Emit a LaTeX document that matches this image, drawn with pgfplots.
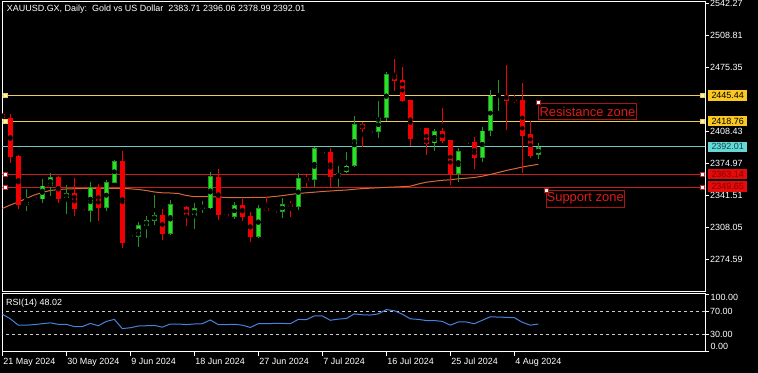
\documentclass[border=0pt]{standalone}
\usepackage{pgfplots}
\pgfplotsset{compat=1.18}
\usepackage{pgfplotstable}
\usepackage{fontspec}
\setmainfont{Liberation Sans}

\definecolor{bullbody}{RGB}{40,225,40}
\definecolor{bullline}{RGB}{30,150,30}
\definecolor{bearc}{RGB}{240,0,0}
\definecolor{yline}{RGB}{235,205,90}
\definecolor{ybox}{RGB}{250,200,30}
\definecolor{ymark}{RGB}{255,240,170}
\definecolor{tline}{RGB}{110,200,200}
\definecolor{tbox}{RGB}{100,215,215}
\definecolor{ttext}{RGB}{20,70,70}
\definecolor{rline}{RGB}{200,30,30}
\definecolor{rbox}{RGB}{230,10,10}
\definecolor{rtext}{RGB}{130,0,0}
\definecolor{zonebox}{RGB}{170,20,20}
\definecolor{zonetext}{RGB}{225,25,25}
\definecolor{maline}{RGB}{215,105,55}
\definecolor{rsiline}{RGB}{70,130,220}

\pgfplotstableread{
k o h l c
3 2331.61 2348.01 2325.34 2334.12
5 2337.25 2358.45 2333.70 2351.45
6 2351.45 2364.40 2340.70 2360.23
8 2338.30 2352.19 2321.90 2343.52
11 2325.34 2355.00 2313.86 2349.78
13 2328.48 2357.41 2325.03 2355.00
14 2354.59 2378.30 2353.96 2377.25
17 2298.19 2313.86 2287.74 2310.41
18 2309.68 2319.81 2296.52 2315.63
19 2314.91 2341.74 2310.41 2320.85
21 2301.01 2336.52 2300.49 2332.02
24 2320.13 2333.07 2306.23 2327.85
26 2327.85 2365.45 2327.12 2361.59
29 2319.08 2334.12 2316.68 2331.30
32 2298.19 2331.30 2296.52 2327.85
35 2324.30 2338.30 2318.03 2332.02
37 2329.73 2364.40 2326.08 2359.18
39 2357.41 2392.19 2350.41 2390.52
42 2360.86 2372.03 2350.41 2364.40
43 2365.45 2386.97 2364.40 2372.34
44 2372.03 2424.25 2371.30 2415.89
47 2407.85 2439.92 2400.96 2422.47
48 2422.47 2469.89 2419.03 2468.11
54 2395.74 2410.67 2388.01 2408.58
57 2363.67 2390.52 2355.63 2387.70
60 2380.70 2412.45 2375.89 2408.90
61 2408.90 2451.40 2403.68 2445.45
67 2383.71 2396.06 2378.99 2392.01
}\bull

\pgfplotstableread{
k o h l c
16 2297.88 2301.01 2296.52 2299.65
25 2327.85 2335.47 2323.26 2329.21
34 2323.26 2326.81 2321.90 2325.03
40 2384.56 2386.60 2383.52 2386.34
46 2406.81 2408.90 2405.14 2408.58
52 2410.36 2412.45 2408.58 2411.40
58 2395.32 2399.18 2393.96 2397.10
62 2445.14 2461.85 2429.78 2446.18
}\doji

\pgfplotstableread{
k o h l c
0 2426.34 2426.90 2421.60 2421.85
1 2422.16 2426.34 2374.85 2381.74
2 2382.79 2383.52 2326.81 2331.30
4 2339.97 2340.70 2335.79 2337.25
7 2360.23 2361.59 2333.70 2337.57
9 2343.52 2359.18 2320.13 2327.12
10 2327.12 2327.40 2322.63 2325.03
12 2349.78 2353.23 2314.91 2328.48
15 2377.25 2387.70 2286.70 2291.92
20 2320.85 2327.12 2294.74 2301.01
22 2329.53 2330.57 2327.12 2328.16
23 2329.53 2330.26 2309.37 2319.81
27 2360.86 2368.90 2315.63 2320.85
28 2321.90 2322.20 2316.37 2318.45
30 2331.30 2337.56 2314.59 2318.45
31 2320.13 2323.67 2292.34 2297.56
33 2328.48 2339.34 2323.67 2325.03
36 2332.34 2335.79 2319.08 2329.53
38 2359.50 2362.63 2350.41 2356.36
41 2386.34 2390.52 2350.41 2360.86
45 2415.89 2418.29 2391.56 2410.67
49 2468.11 2483.78 2450.67 2460.80
50 2461.85 2475.74 2439.19 2440.23
51 2440.96 2441.20 2393.23 2399.92
53 2411.40 2412.03 2383.52 2395.01
55 2408.58 2432.29 2395.74 2398.45
56 2399.18 2399.40 2352.19 2363.67
59 2396.78 2402.00 2368.90 2380.70
63 2446.18 2477.51 2409.63 2440.23
64 2442.00 2446.18 2438.14 2439.91
65 2440.96 2458.40 2364.41 2403.68
66 2405.45 2419.03 2380.70 2382.47
}\bear

\pgfplotstableread{
k m
0 2327.64
1 2331.30
2 2334.43
3 2338.09
4 2341.74
5 2344.35
6 2346.44
7 2347.48
8 2348.01
9 2348.32
10 2348.53
11 2348.74
12 2348.74
13 2348.74
14 2348.74
15 2348.74
16 2348.22
17 2347.48
18 2346.44
19 2344.88
20 2344.04
21 2343.83
22 2343.31
23 2341.22
24 2339.97
25 2339.97
26 2339.97
27 2339.65
28 2339.13
29 2338.92
30 2338.92
31 2339.13
32 2339.34
33 2339.34
34 2340.18
35 2341.01
36 2342.27
37 2343.31
38 2344.04
39 2344.67
40 2345.40
41 2345.92
42 2346.44
43 2346.96
44 2347.69
45 2348.43
46 2348.85
47 2349.26
48 2349.78
49 2350.10
50 2350.41
51 2350.93
52 2353.23
53 2355.11
54 2356.15
55 2357.09
56 2357.61
57 2358.66
58 2359.28
59 2360.01
60 2361.37
61 2363.15
62 2365.24
63 2367.33
64 2369.10
65 2370.98
66 2372.44
67 2373.80
}\ma

\pgfplotstableread{
k r
0 65
1 57
2 46
3 46
4 47
5 48.5
6 50
7 47.5
8 47.5
9 43.5
10 43.5
11 49
12 45
13 52.5
14 56
15 40
16 41.5
17 44.5
18 45
19 45.5
20 42.5
21 48
22 48
23 47
24 48
25 48.5
26 55
27 47
28 47
29 47.5
30 46
31 42
32 48.5
33 48.5
34 49
35 49
36 48.5
37 56
38 55.5
39 62
40 62
41 54.5
42 56.5
43 57.5
44 65.5
45 64
46 63.5
47 65.5
48 73
49 71
50 65
51 57
52 56
53 54
54 54
55 52.5
56 46
57 51.5
58 51.5
59 48.5
60 54.5
61 60.5
62 60
63 59.5
64 59
65 51
66 46
67 48.02
}\rsi

\newcommand{\tf}{\fontsize{9}{10}\selectfont}

\begin{document}
\begin{tikzpicture}
\fill[black] (0,0) rectangle (758bp,373bp);

\begin{axis}[
  at={(2.3bp,81.3bp)}, anchor=south west,
  width=702.7bp, height=289.7bp, scale only axis,
  xmin=0, xmax=87.84,
  ymin=2240.75, ymax=2543.3,
  axis line style={white, line width=1bp},
  xtick=\empty,
  ytick={2274.59,2308.05,2341.51,2374.97,2408.43,2475.35,2508.81,2542.27},
  ytick pos=right, yticklabel pos=right,
  tick align=outside, major tick length=4bp,
  tick style={white, line width=0.8bp},
  y tick label style={/pgf/number format/.cd, fixed, fixed zerofill, precision=2, 1000 sep={}, assume math mode=true, /tikz/.cd, text=white, font=\tf, inner sep=1bp},
]
% horizontal levels
\addplot[yline, line width=1bp, forget plot] coordinates {(-1,2445.44) (90,2445.44)};
\addplot[yline, line width=1bp, forget plot] coordinates {(-1,2418.76) (90,2418.76)};
\addplot[tline, line width=1bp, forget plot] coordinates {(-1,2392.01) (90,2392.01)};
\addplot[rline, line width=1bp, forget plot] coordinates {(-1,2363.14) (90,2363.14)};
\addplot[rline, line width=1bp, forget plot] coordinates {(-1,2349.65) (90,2349.65)};
% moving average
\addplot[maline, line width=1bp, forget plot] table[x=k, y=m] {\ma};
% wicks
\addplot[only marks, mark=none, forget plot, error bars/.cd, y dir=both, y explicit, error mark=none,
  error bar style={line width=1bp, draw=bullline}]
  table[x=k, y expr={(\thisrow{h}+\thisrow{l})/2}, y error expr={(\thisrow{h}-\thisrow{l})/2}] {\bull};
\addplot[only marks, mark=none, forget plot, error bars/.cd, y dir=both, y explicit, error mark=none,
  error bar style={line width=1bp, draw=bullline}]
  table[x=k, y expr={(\thisrow{h}+\thisrow{l})/2}, y error expr={(\thisrow{h}-\thisrow{l})/2}] {\doji};
\addplot[only marks, mark=none, forget plot, error bars/.cd, y dir=both, y explicit, error mark=none,
  error bar style={line width=1bp, draw=bearc}]
  table[x=k, y expr={(\thisrow{h}+\thisrow{l})/2}, y error expr={(\thisrow{h}-\thisrow{l})/2}] {\bear};
% bodies
\addplot[only marks, mark=none, forget plot, error bars/.cd, y dir=both, y explicit, error mark=none,
  error bar style={line width=5bp, draw=bullline}]
  table[x=k, y expr={(\thisrow{o}+\thisrow{c})/2}, y error expr={(\thisrow{c}-\thisrow{o})/2}] {\bull};
\addplot[only marks, mark=none, forget plot, error bars/.cd, y dir=both, y explicit, error mark=none,
  error bar style={line width=3.4bp, draw=bullbody}]
  table[x=k, y expr={(\thisrow{o}+\thisrow{c})/2}, y error expr={max((\thisrow{c}-\thisrow{o})/2-0.8,0.2)}] {\bull};
\addplot[only marks, mark=none, forget plot, error bars/.cd, y dir=both, y explicit, error mark=none,
  error bar style={line width=5bp, draw=bullline}]
  table[x=k, y expr={(\thisrow{o}+\thisrow{c})/2}, y error expr={max(abs(\thisrow{c}-\thisrow{o})/2,0.8)}] {\doji};
\addplot[only marks, mark=none, forget plot, error bars/.cd, y dir=both, y explicit, error mark=none,
  error bar style={line width=5bp, draw=bearc}]
  table[x=k, y expr={(\thisrow{o}+\thisrow{c})/2}, y error expr={max((\thisrow{o}-\thisrow{c})/2,0.8)}] {\bear};
% end markers of levels
\addplot[only marks, mark=square*, mark size=2bp, mark options={fill=ymark, draw=yline, line width=0.8bp}, forget plot]
  coordinates {(0.34,2445.44) (87.46,2445.44) (0.34,2418.76) (87.46,2418.76)};
\addplot[only marks, mark=square*, mark size=2bp, mark options={fill=white, draw=rline, line width=0.8bp}, forget plot]
  coordinates {(0.34,2363.14) (87.46,2363.14) (0.34,2349.65) (87.46,2349.65)};

\coordinate (L1) at (axis cs:87.84,2445.44);
\coordinate (L2) at (axis cs:87.84,2418.76);
\coordinate (L3) at (axis cs:87.84,2392.01);
\coordinate (L4) at (axis cs:87.84,2363.14);
\coordinate (L5) at (axis cs:87.84,2349.65);
\coordinate (RZ) at (axis cs:67.0,2438.14);
\coordinate (SZ) at (axis cs:67.96,2346.96);
\coordinate (TT) at (rel axis cs:0,1);
\end{axis}

\begin{axis}[
  at={(2.3bp,21.3bp)}, anchor=south west,
  width=702.7bp, height=57.7bp, scale only axis,
  xmin=0, xmax=87.84, ymin=0, ymax=100,
  axis line style={white, line width=1bp},
  xtick={0,8,16,24,32,40,48,56,64},
  xticklabels={21 May 2024,30 May 2024,9 Jun 2024,18 Jun 2024,27 Jun 2024,7 Jul 2024,16 Jul 2024,25 Jul 2024,4 Aug 2024},
  xtick pos=bottom,
  ytick={0,30,70,100}, yticklabels={,30.00,70.00,},
  ytick pos=right, yticklabel pos=right,
  tick align=outside, major tick length=4bp,
  tick style={white, line width=0.8bp},
  x tick label style={text=white, font=\tf, anchor=north west, inner sep=1bp, yshift=-1.5bp},
  y tick label style={text=white, font=\tf, inner sep=1bp},
]
\addplot[white!80!black, line width=0.8bp, dash pattern=on 3bp off 3bp, forget plot] coordinates {(-1,70) (90,70)};
\addplot[white!80!black, line width=0.8bp, dash pattern=on 3bp off 3bp, forget plot] coordinates {(-1,30) (90,30)};
\addplot[rsiline, line width=1bp, forget plot] table[x=k, y=r] {\rsi};
\coordinate (RT) at (rel axis cs:0,1);
\coordinate (RR1) at (rel axis cs:1,1);
\coordinate (RR0) at (rel axis cs:1,0);
\end{axis}

% annotations
\node[anchor=west, text=white, font=\tf, inner sep=0pt] at ([xshift=4.4bp, yshift=-7.5bp]TT) {XAUUSD.GX, Daily:\ \ Gold vs US Dollar\ \ 2383.71 2396.06 2378.99 2392.01};
\node[anchor=west, text=white, font=\tf, inner sep=0pt] at ([xshift=3.7bp, yshift=-8.7bp]RT) {RSI(14) 48.02};
\node[anchor=west, text=white, font=\tf, inner sep=0pt] at ([xshift=5.5bp, yshift=-3.5bp]RR1) {100.00};
\node[anchor=west, text=white, font=\tf, inner sep=0pt] at ([xshift=5.5bp, yshift=5bp]RR0) {0.00};

\node[anchor=west, fill=ybox, text=black, font=\tf, inner sep=0pt, minimum width=39bp, minimum height=10.5bp] at ([xshift=3bp]L1) {2445.44};
\node[anchor=west, fill=ybox, text=black, font=\tf, inner sep=0pt, minimum width=39bp, minimum height=10.5bp] at ([xshift=3bp]L2) {2418.76};
\node[anchor=west, fill=tbox, text=ttext, font=\tf, inner sep=0pt, minimum width=39bp, minimum height=10.5bp] at ([xshift=3bp]L3) {2392.01};
\node[anchor=west, fill=rbox, text=rtext, font=\tf, inner sep=0pt, minimum width=39bp, minimum height=10.5bp] at ([xshift=3bp, yshift=0.5bp]L4) {2363.14};
\node[anchor=west, fill=rbox, text=rtext, font=\tf, inner sep=0pt, minimum width=39bp, minimum height=10.5bp] at ([xshift=3bp, yshift=0.8bp]L5) {2349.65};

\node[anchor=north west, draw=zonebox, line width=0.8bp, text=zonetext, font=\fontsize{13}{13}\selectfont, inner sep=0pt, minimum width=97.4bp, minimum height=16.6bp] at (RZ) {Resistance zone};
\node[anchor=north west, draw=zonebox, line width=0.8bp, text=zonetext, font=\fontsize{13}{13}\selectfont, inner sep=0pt, minimum width=77.7bp, minimum height=16.6bp] at (SZ) {Support zone};
\fill[white] ([xshift=-2bp,yshift=-2bp]RZ) rectangle ([xshift=2bp,yshift=2bp]RZ);
\draw[zonebox, line width=0.6bp] ([xshift=-2bp,yshift=-2bp]RZ) rectangle ([xshift=2bp,yshift=2bp]RZ);
\fill[white] ([xshift=-2bp,yshift=-2bp]SZ) rectangle ([xshift=2bp,yshift=2bp]SZ);
\draw[zonebox, line width=0.6bp] ([xshift=-2bp,yshift=-2bp]SZ) rectangle ([xshift=2bp,yshift=2bp]SZ);

\pgfresetboundingbox
\useasboundingbox (0,0) rectangle (758bp,373bp);
\end{tikzpicture}
\end{document}
